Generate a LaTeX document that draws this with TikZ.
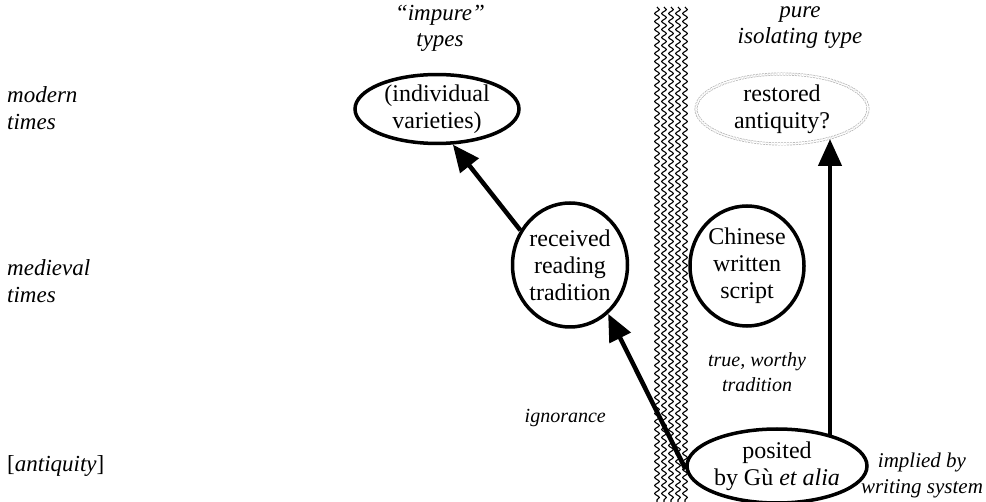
\documentclass[tikz,border=0pt]{standalone}
\usepackage{fontspec}
\setmainfont{Liberation Serif}
\usetikzlibrary{shapes.geometric,arrows.meta,decorations.pathmorphing}
\begin{document}
\begin{tikzpicture}[x=1pt,y=-1pt,
  ell/.style={draw, ellipse, line width=3.5pt, inner sep=0pt, align=center,
    font=\fontsize{24}{27}\selectfont},
  dimell/.style={draw=gray!60, ellipse, line width=0.7pt, double=white, double distance=1.6pt,
    dash pattern=on 2pt off 1pt, inner sep=0pt, align=center,
    font=\fontsize{24}{27}\selectfont},
  lbl/.style={align=left, anchor=west, inner sep=0pt, font=\fontsize{23}{27}\selectfont\itshape},
  hdr/.style={align=center, inner sep=0pt, font=\fontsize{23}{26}\selectfont\itshape},
  small/.style={align=center, inner sep=0pt, font=\fontsize{20}{25}\selectfont\itshape},
  arr/.style={line width=4.5pt, -{Triangle[length=27pt,width=23pt]}},
  wave/.style={line width=1.1pt, decorate, decoration={snake, segment length=8pt, amplitude=2.3pt}}
]
\useasboundingbox (0,0) rectangle (986,502);

% divider band
\foreach \xx in {657,664,671,678,685}
  \draw[wave] (\xx,7) -- (\xx,502);

% row and column labels
\node[lbl] (lmod) at (7,108) {modern\\times};
\node[lbl] (lmed) at (7,281) {medieval\\times};
\node[lbl, font=\fontsize{23}{27}\selectfont] (lant) at (7,466) {[\textit{antiquity}]};
\node[hdr] (himp) at (440,28) {“impure”\\types};
\node[hdr] (hpure) at (800,28) {pure\\isolating type};

% nodes
\node[ell, minimum width=164pt, minimum height=58pt] (indiv) at (437,109) {(individual\\varieties)};
\node[ell, minimum width=114pt, minimum height=124pt] (recv) at (570,265) {received\\reading\\tradition};
\node[ell, minimum width=114pt, minimum height=120pt] (chin) at (747,266) {Chinese\\written\\script};
\node[dimell, minimum width=172pt, minimum height=70pt] (rest) at (782,109) {restored\\antiquity?};
\node[ell, minimum width=180pt, minimum height=74pt, fill=white] (posit) at (777,466) {posited\\by Gù \textit{et alia}};

% arrows
\draw[arr] (recv.145) -- (indiv.-66);
\draw[arr] (posit.182) -- (recv.-52);
\coordinate (vs) at (830,437);
\coordinate (ve) at (830,139);
\draw[arr] (vs) -- (ve);

% edge labels
\node[small, anchor=east] (lign) at (606,418) {ignorance};
\node[small] (ltrue) at (757,372) {true, worthy\\tradition};
\node[small, font=\fontsize{21}{26}\selectfont\itshape] (limpl) at (922,475) {implied by\\writing system};
\end{tikzpicture}
\end{document}
